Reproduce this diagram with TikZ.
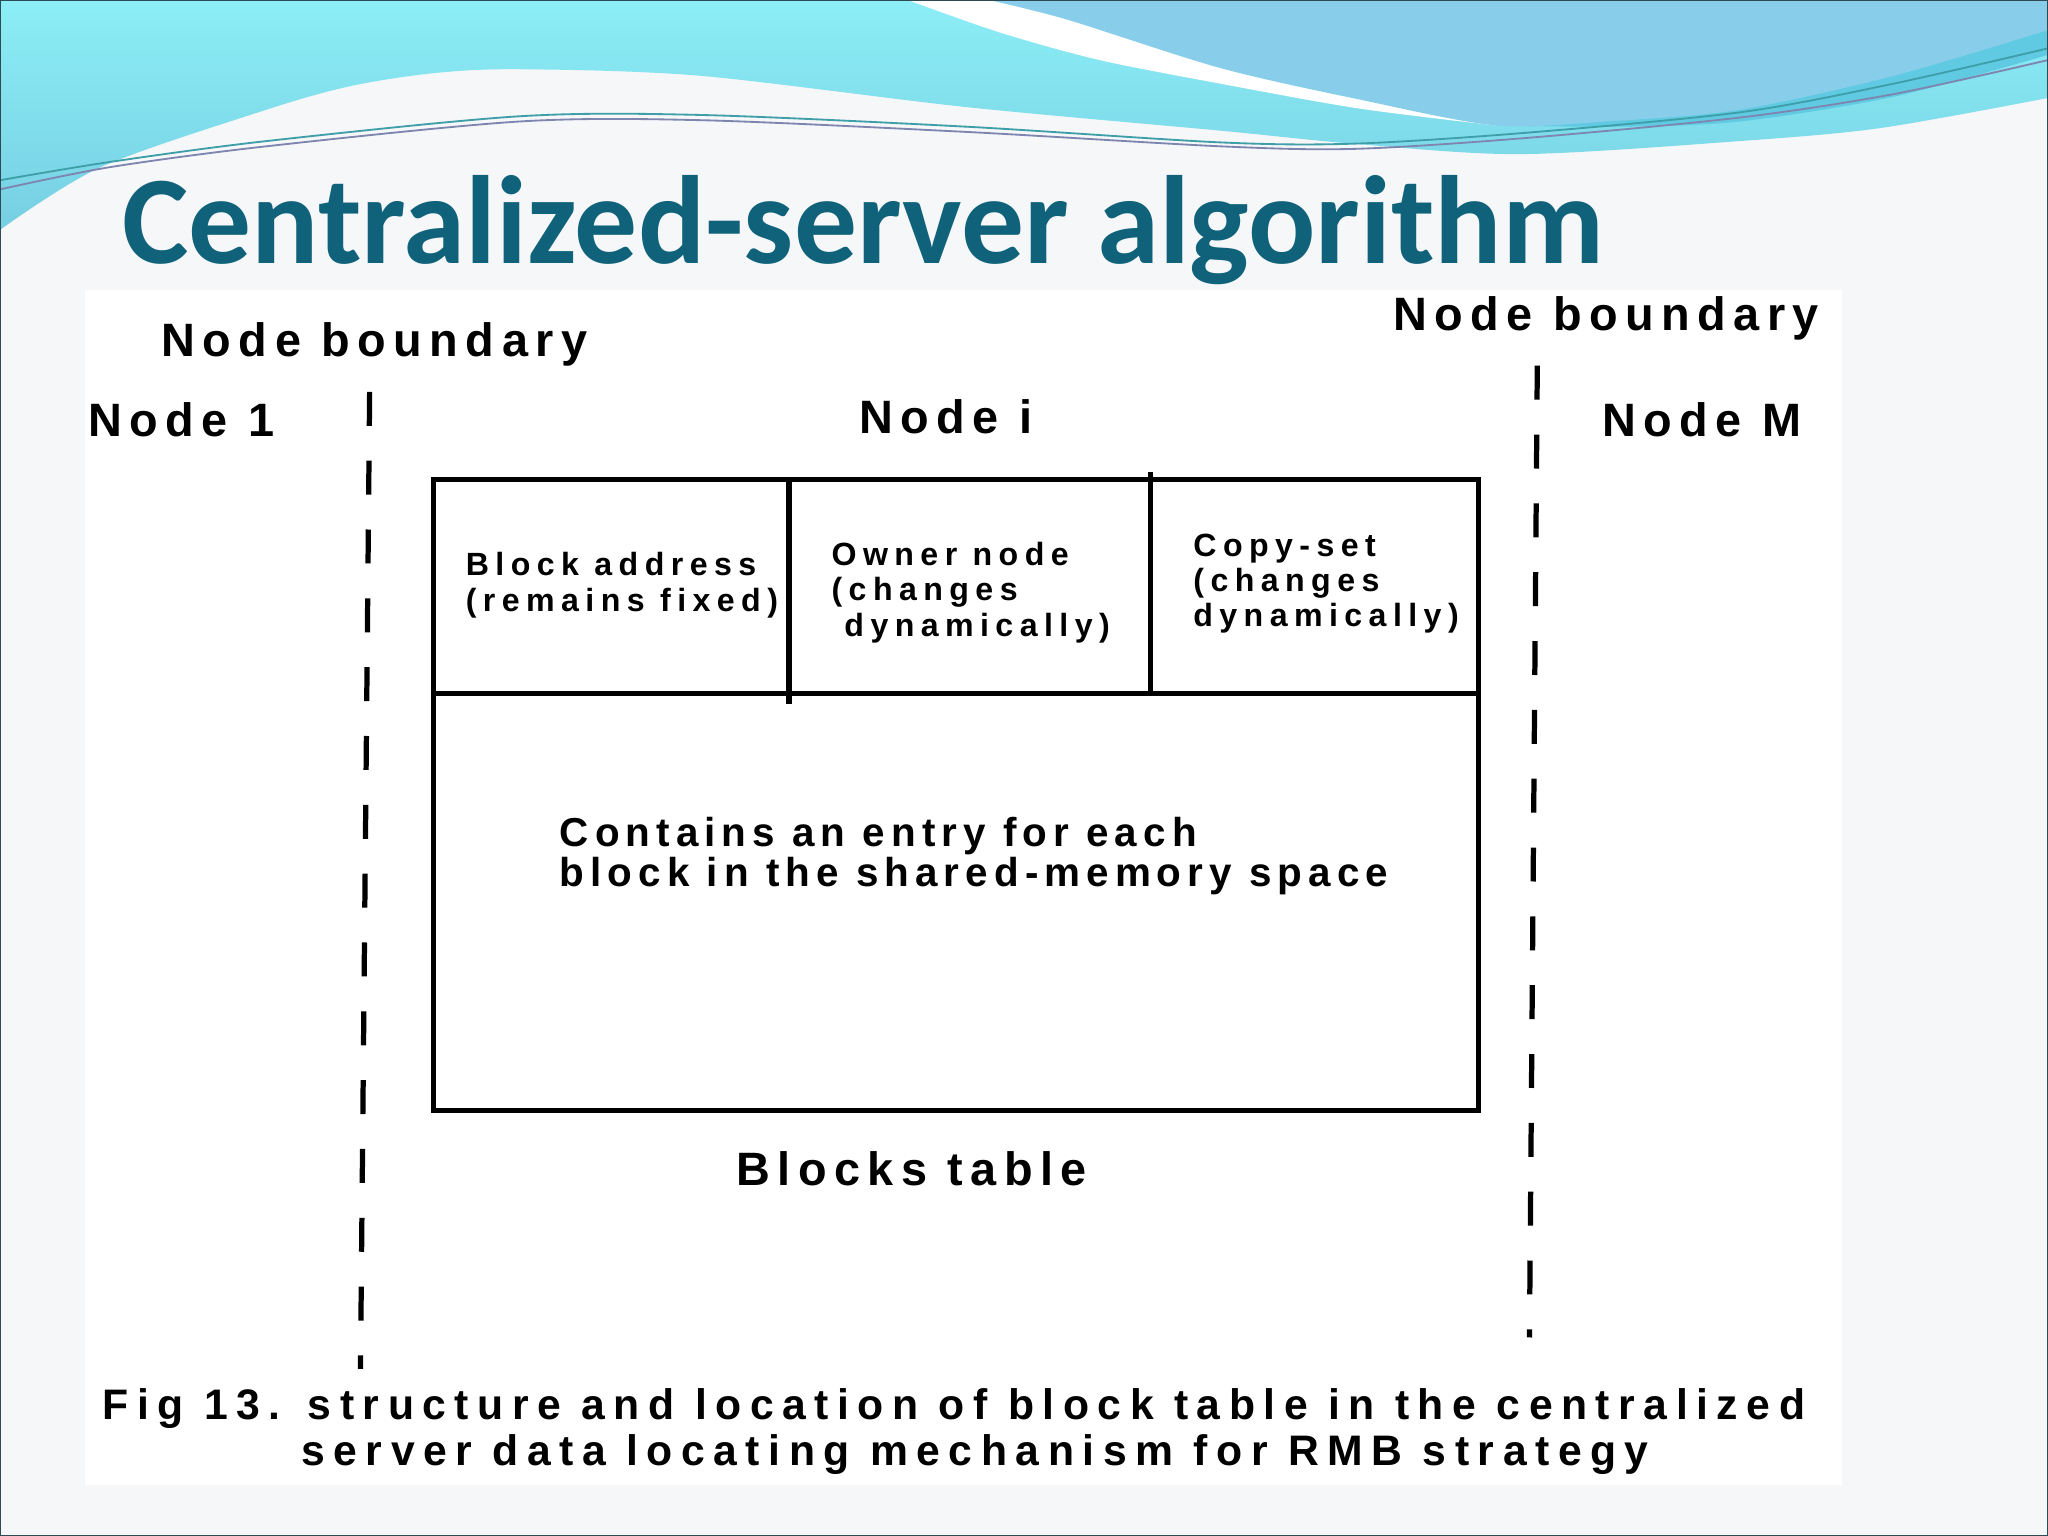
\documentclass[tikz,border=0pt]{standalone}
\usepackage{fontspec}
\setmainfont{Liberation Sans}
\newfontfamily\titlefont{Carlito}
\newfontfamily\labelfont{Liberation Sans}[LetterSpace=16]
\newfontfamily\cellfont{Liberation Sans}[LetterSpace=20]
\newfontfamily\notefont{Liberation Sans}[LetterSpace=15]
\newfontfamily\capfont{Liberation Sans}[LetterSpace=20]
\definecolor{titleteal}{HTML}{0F627A}
\definecolor{wavecyan}{HTML}{8CEEF6}
\definecolor{wavecyandeep}{HTML}{76CFE2}
\definecolor{waveblue}{HTML}{88CEEA}
\definecolor{wavetail}{HTML}{5FCAE2}
\definecolor{waveline}{HTML}{3E9FA8}
\definecolor{wavelinegrey}{HTML}{7E86B0}
\definecolor{slidebg}{HTML}{F6F7F9}
\definecolor{slideedge}{HTML}{2E4A55}
\begin{document}
\begin{tikzpicture}[x=0.1mm,y=-0.1mm,
  every node/.style={inner sep=0pt,anchor=base west},
  bound/.style={font=\labelfont\bfseries\fontsize{10.2}{12}\selectfont},
  cell/.style={font=\cellfont\bfseries\fontsize{7}{7.7}\selectfont,align=left},
  note/.style={font=\notefont\bfseries\fontsize{8.8}{8.8}\selectfont,align=left},
  caption/.style={font=\capfont\bfseries\fontsize{9.3}{10}\selectfont},
  tableline/.style={line width=1.14pt,line cap=rect},
  boundary/.style={line width=1.14pt,dash pattern=on 2.6mm off 2.67mm},
  waveedge/.style={line width=0.4pt}]
\useasboundingbox (0,0) rectangle (1568,1176);
% slide background and banner
\fill[slidebg] (0,0) rectangle (1568,1176);
\shade[top color=wavecyan,bottom color=wavecyandeep] plot[smooth] coordinates {(1568,75) (1440,98)
  (1332,108) (1164,118) (1036,110) (934,100) (740,82) (536,58) (398,53) (332,56) (268,66)
  (204,84) (77,128) (0,176)} -- (0,0) -- (1568,0) -- cycle;
\fill[white] plot[smooth] coordinates {(695,0) (766,25) (842,46) (934,64) (1040,83) (1145,96)}
  -- (1145,0) -- cycle;
\fill[wavetail] plot[smooth] coordinates {(1145,96) (1240,97) (1332,93) (1450,74) (1568,42)}
  -- (1568,23) -- cycle;
\fill[waveblue] plot[smooth] coordinates {(1568,23) (1450,58) (1332,84) (1230,93) (1145,96)
  (1040,76) (934,52) (817,15) (757,0)} -- (1568,0) -- cycle;
\draw[waveedge,waveline] plot[smooth] coordinates {(0,138) (84,124) (204,108) (398,89) (536,88)
  (740,97) (934,109) (1036,110) (1164,102) (1332,86) (1450,64) (1568,37)};
\draw[waveedge,wavelinegrey] plot[smooth] coordinates {(0,145) (84,128) (204,112) (398,93) (536,92)
  (740,101) (934,112) (1036,114) (1164,106) (1332,90) (1450,72) (1568,46)};
\node (title) at (93,202) {\titlefont\bfseries\fontsize{27.35}{30}\selectfont\color{titleteal}Centralized-server algorithm};
\fill[white] (65,222) rectangle (1410,1137);

% node boundaries
\coordinate (lbtop) at (283,300);
\coordinate (lbbot) at (276,1048);
\coordinate (rbtop) at (1177,280);
\coordinate (rbbot) at (1171,1024);
\draw[boundary] (lbtop) -- (lbbot);
\draw[boundary] (rbtop) -- (rbbot);
\begin{scope}[every node/.append style={bound}]
  \node (lbound) at (123,273) {Node boundary};
  \node (rbound) at (1066,253) {Node boundary};
  \node (node1) at (67,334) {Node 1};
  \node (nodei) at (657,332) {Node i};
  \node (nodeM) at (1226,334) {Node M};
  \node (tabname) at (563,908) {Blocks table};
\end{scope}

% blocks table
\draw[tableline] (332,367) rectangle (1132,850);
\draw[tableline] (332,531) -- (1132,531);
\draw[tableline] (604,367) -- (604,537);
\draw[tableline] (881,363) -- (881,531);
\begin{scope}[every node/.append style={cell}]
  \node (addr) at (356,468) {Block address\\(remains fixed)};
  \node (owner) at (636,487) {Owner node\\(changes\\\hspace*{2.8pt}dynamically)};
  \node (copyset) at (913,480) {Copy-set\\(changes\\dynamically)};
\end{scope}
\node[note] (entry) at (428,679) {Contains an entry for each\\block in the shared-memory space};

% caption
\node[caption] (cap1) at (78,1087) {Fig 13. structure and location of block table in the centralized};
\node[caption] (cap2) at (230,1122) {server data locating mechanism for RMB strategy};
\draw[line width=0.45pt,slideedge] (0,0) rectangle (1568,1176);
\end{tikzpicture}
\end{document}
